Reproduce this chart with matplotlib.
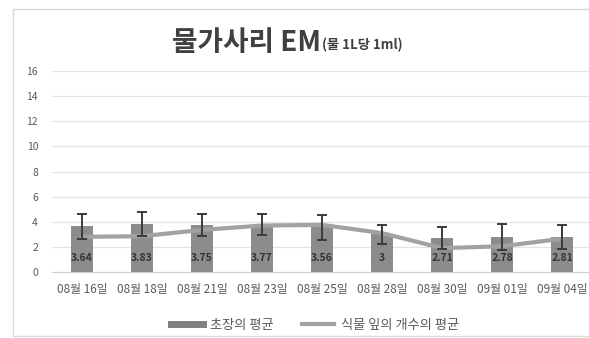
import matplotlib
matplotlib.use("Agg")
import matplotlib.pyplot as plt
from matplotlib.lines import Line2D
from matplotlib.patches import Rectangle

plt.rcParams['font.family'] = ['Noto Sans CJK KR', 'DejaVu Sans']

dates = ["08월 16일", "08월 18일", "08월 21일", "08월 23일", "08월 25일",
         "08월 28일", "08월 30일", "09월 01일", "09월 04일"]
height_mean = [3.64, 3.83, 3.75, 3.77, 3.56, 3, 2.71, 2.78, 2.81]
height_err = [1.0, 0.95, 0.85, 0.85, 1.0, 0.75, 0.85, 1.05, 0.95]
leaf_mean = [2.8, 2.85, 3.35, 3.7, 3.75, 3.1, 1.9, 2.05, 2.65]
yticks = [0, 2, 4, 6, 8, 10, 12, 14, 16]

W, H = 589, 338
fig = plt.figure(figsize=(W / 100, H / 100), dpi=100)
fig.patch.set_facecolor("white")

# chart frame
fig.add_artist(Rectangle((13 / W, 2 / H), 1.2, (H - 11) / H, transform=fig.transFigure,
                         facecolor="white", edgecolor="#d9d9d9", linewidth=1.0, zorder=0))

ax = fig.add_axes([52 / W, (H - 272) / H, 540 / W, (272 - 71) / H])
ax.set_facecolor("none")
x = list(range(len(dates)))

ax.bar(x, height_mean, width=0.38, color="#8c8c8c", zorder=2)
ax.errorbar(x, height_mean, yerr=height_err, fmt="none", ecolor="#3a3a3a",
            elinewidth=1.4, capsize=3.5, capthick=1.4, zorder=4)
ax.plot(x, leaf_mean, color="#a2a2a2", linewidth=3, zorder=3,
        solid_capstyle="round")

for xi, v in zip(x, height_mean):
    ax.text(xi, 1.1, f"{v:g}", ha="center", va="center", fontsize=7.5,
            fontweight="bold", color="#333333", zorder=5)

ax.set_xlim(-0.5, len(dates) - 0.5)
ax.set_ylim(0, 16)
ax.set_yticks(yticks)
ax.set_yticklabels([str(t) for t in yticks], fontsize=7.5, color="#595959")
ax.set_xticks(x)
ax.set_xticklabels(dates, fontsize=8.5, color="#595959")
ax.tick_params(axis="both", length=0)
ax.tick_params(axis="y", pad=10)
ax.tick_params(axis="x", pad=8)
ax.grid(axis="y", color="#e3e3e3", linewidth=0.9, zorder=0)
ax.set_axisbelow(True)
for s in ["top", "right", "left"]:
    ax.spines[s].set_visible(False)
ax.spines["bottom"].set_color("#d0d0d0")

# title
fig.text(321 / W, 1 - 43 / H, "물가사리 EM", ha="right", va="center",
         fontsize=20, fontweight="black", color="#404040")
fig.text(322 / W, 1 - 45 / H, "(물 1L당 1ml)", ha="left", va="center",
         fontsize=9.5, fontweight="bold", color="#404040")

handles = [Line2D([], [], color="#7f7f7f", linewidth=5),
           Line2D([], [], color="#a2a2a2", linewidth=3)]
fig.legend(handles, ["초장의 평균", "식물 잎의 개수의 평균"], loc="center",
           bbox_to_anchor=(315 / W, 1 - 325 / H), ncol=2, frameon=False,
           fontsize=9.5, handlelength=2.4, handletextpad=0.5,
           columnspacing=2.2, labelcolor="#595959")

fig.savefig("out.png", dpi=100)
